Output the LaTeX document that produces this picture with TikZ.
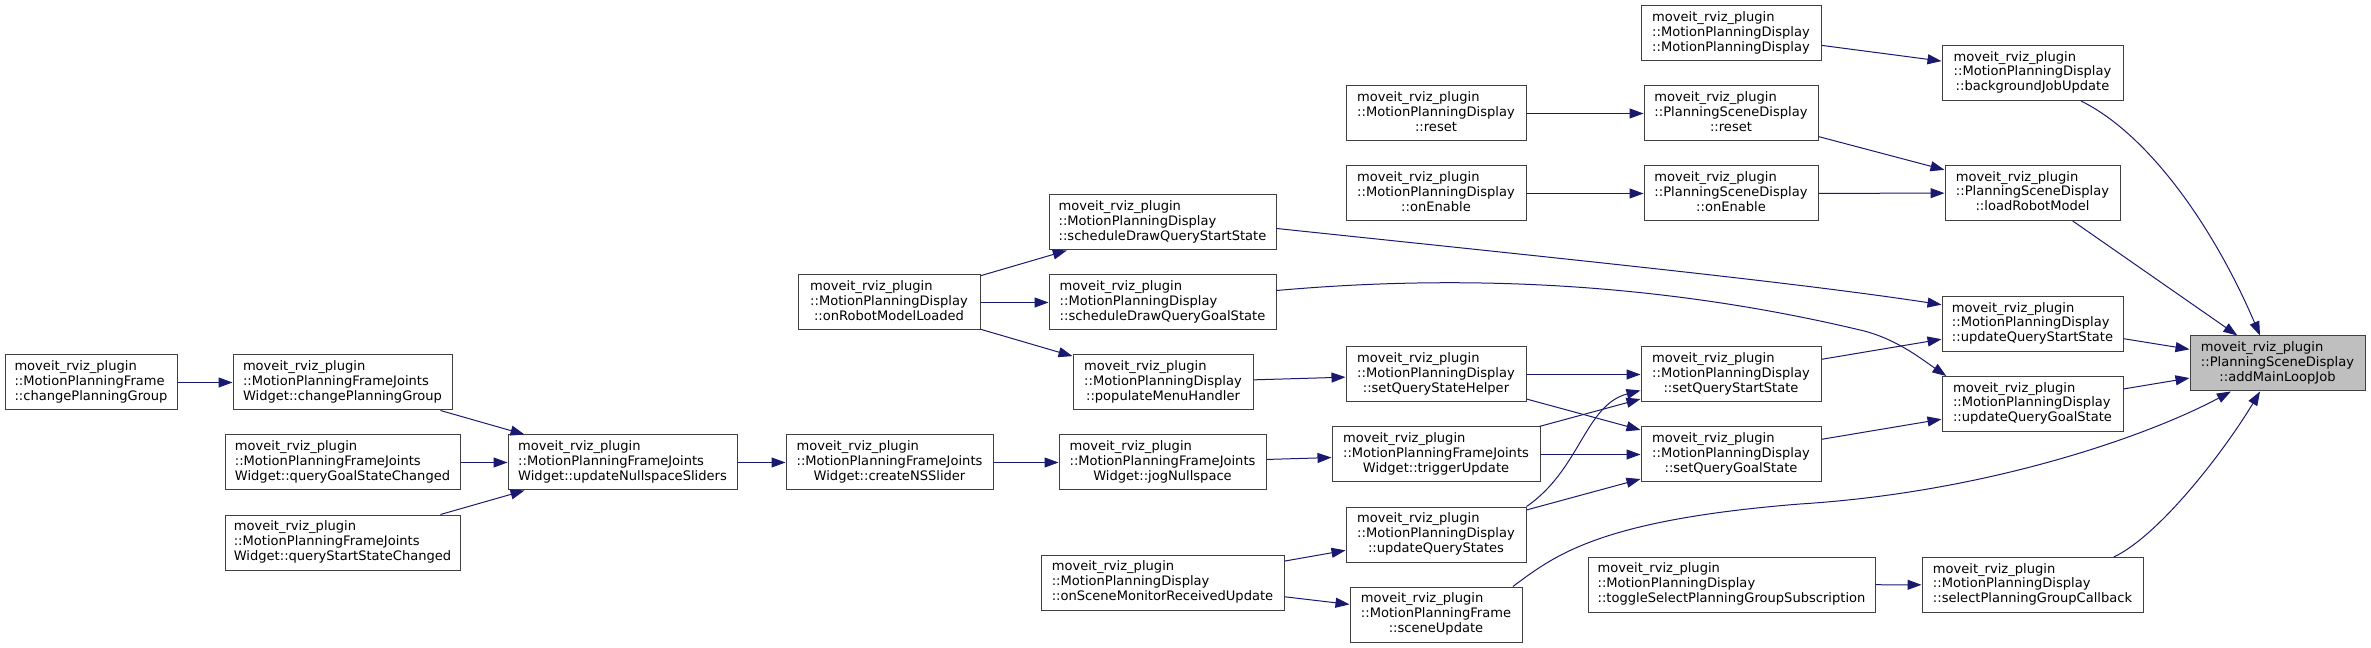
\documentclass[tikz,border=0pt]{standalone}
\usepackage{fontspec}
\setmainfont{DejaVu Sans}
\usepackage{xcolor}
\usepackage{tikz}
\usetikzlibrary{arrows.meta, positioning}

\definecolor{edgeblue}{RGB}{25,25,112}
\definecolor{mainfill}{RGB}{191,191,191}
\newcommand{\fnlabel}[2]{\begin{tabular}{@{}l@{}}moveit\_rviz\_plugin\\#1\\\multicolumn{1}{@{}c@{}}{#2}\end{tabular}}

\begin{document}
\begin{tikzpicture}[
  x=0.75pt, y=-0.75pt,
  every node/.style={font=\fontsize{9.8pt}{11pt}\selectfont},
  fnbox/.style={rectangle, draw=black!75, fill=white, line width=0.75pt,
                inner sep=0pt, minimum height=41.25pt},
  mainbox/.style={fnbox, fill=mainfill},
  bw/.style={minimum width=#1*0.75pt},
  arr/.style={-{Triangle[length=10.5pt, width=7.5pt]}, line width=0.75pt, edgeblue}
]
  \useasboundingbox (0,0) rectangle (2371,648);

  \node[fnbox, bw=172] (fcpg) at (91,382.5) {\fnlabel{::MotionPlanningFrame}{::changePlanningGroup}};
  \node[fnbox, bw=219] (wcpg) at (342.5,382.5) {\fnlabel{::MotionPlanningFrameJoints}{Widget::changePlanningGroup}};
  \node[fnbox, bw=235] (qgsc) at (342.5,462.5) {\fnlabel{::MotionPlanningFrameJoints}{Widget::queryGoalStateChanged}};
  \node[fnbox, bw=235] (qssc) at (342.5,542.5) {\fnlabel{::MotionPlanningFrameJoints}{Widget::queryStartStateChanged}};
  \node[fnbox, bw=229] (uns) at (622.5,462.5) {\fnlabel{::MotionPlanningFrameJoints}{Widget::updateNullspaceSliders}};
  \node[fnbox, bw=207] (cns) at (889.5,462.5) {\fnlabel{::MotionPlanningFrameJoints}{Widget::createNSSlider}};
  \node[fnbox, bw=182] (orml) at (889,302.5) {\fnlabel{::MotionPlanningDisplay}{::onRobotModelLoaded}};

  \node[fnbox, bw=227] (sdqs) at (1162.5,222.5) {\fnlabel{::MotionPlanningDisplay}{::scheduleDrawQueryStartState}};
  \node[fnbox, bw=227] (sdqg) at (1162.5,302.5) {\fnlabel{::MotionPlanningDisplay}{::scheduleDrawQueryGoalState}};
  \node[fnbox, bw=180] (pmh) at (1163,382.5) {\fnlabel{::MotionPlanningDisplay}{::populateMenuHandler}};
  \node[fnbox, bw=207] (jog) at (1162.5,462.5) {\fnlabel{::MotionPlanningFrameJoints}{Widget::jogNullspace}};
  \node[fnbox, bw=243] (osm) at (1162.5,582.5) {\fnlabel{::MotionPlanningDisplay}{::onSceneMonitorReceivedUpdate}};

  \node[fnbox, bw=180] (mreset) at (1436,113.5) {\fnlabel{::MotionPlanningDisplay}{::reset}};
  \node[fnbox, bw=180] (menable) at (1436,193.5) {\fnlabel{::MotionPlanningDisplay}{::onEnable}};
  \node[fnbox, bw=180] (sqsh) at (1436,374.5) {\fnlabel{::MotionPlanningDisplay}{::setQueryStateHelper}};
  \node[fnbox, bw=208] (trig) at (1436,454.5) {\fnlabel{::MotionPlanningFrameJoints}{Widget::triggerUpdate}};
  \node[fnbox, bw=180] (uqs) at (1436,534.5) {\fnlabel{::MotionPlanningDisplay}{::updateQueryStates}};
  \node[fnbox, bw=172] (scup) at (1436,614.5) {\fnlabel{::MotionPlanningFrame}{::sceneUpdate}};

  \node[fnbox, bw=180] (mctor) at (1731,33.5) {\fnlabel{::MotionPlanningDisplay}{::MotionPlanningDisplay}};
  \node[fnbox, bw=174] (preset) at (1731,113.5) {\fnlabel{::PlanningSceneDisplay}{::reset}};
  \node[fnbox, bw=174] (penable) at (1731,193.5) {\fnlabel{::PlanningSceneDisplay}{::onEnable}};
  \node[fnbox, bw=180] (sqss) at (1731,374.5) {\fnlabel{::MotionPlanningDisplay}{::setQueryStartState}};
  \node[fnbox, bw=180] (sqgs) at (1731,454.5) {\fnlabel{::MotionPlanningDisplay}{::setQueryGoalState}};
  \node[fnbox, bw=287] (tsel) at (1731.5,584.5) {\fnlabel{::MotionPlanningDisplay}{::toggleSelectPlanningGroupSubscription}};

  \node[fnbox, bw=181] (bju) at (2032.5,73) {\fnlabel{::MotionPlanningDisplay}{::backgroundJobUpdate}};
  \node[fnbox, bw=175] (lrm) at (2032.5,193) {\fnlabel{::PlanningSceneDisplay}{::loadRobotModel}};
  \node[fnbox, bw=181] (uqss) at (2032.5,324) {\fnlabel{::MotionPlanningDisplay}{::updateQueryStartState}};
  \node[fnbox, bw=181] (uqgs) at (2032.5,404) {\fnlabel{::MotionPlanningDisplay}{::updateQueryGoalState}};
  \node[fnbox, bw=221] (spg) at (2032.5,585) {\fnlabel{::MotionPlanningDisplay}{::selectPlanningGroupCallback}};

  \node[mainbox, bw=175] (aml) at (2277.5,363.5) {\fnlabel{::PlanningSceneDisplay}{::addMainLoopJob}};

  \draw[arr] (fcpg) -- (wcpg);
  \draw[arr] (wcpg) -- (uns);
  \draw[arr] (qgsc) -- (uns);
  \draw[arr] (qssc) -- (uns);
  \draw[arr] (uns) -- (cns);
  \draw[arr] (cns) -- (jog);
  \draw[arr] (orml) -- (sdqs);
  \draw[arr] (orml) -- (sdqg);
  \draw[arr] (orml) -- (pmh);
  \draw[arr] (pmh) -- (sqsh);
  \draw[arr] (jog) -- (trig);
  \draw[arr] (osm) -- (uqs);
  \draw[arr] (osm) -- (scup);
  \draw[arr] (mreset) -- (preset);
  \draw[arr] (menable) -- (penable);
  \draw[arr] (sqsh) -- (sqss);
  \draw[arr] (sqsh) -- (sqgs);
  \draw[arr] (trig) -- (sqss);
  \draw[arr] (trig) -- (sqgs);
  \draw[arr] (uqs) -- (sqgs);
  \draw[arr] (uqs.north east) .. controls (1580,470) and (1585,405) .. (sqss.190);
  \draw[arr] (scup.20) .. controls (1555,555) and (1600,520) .. (1800,504)
             .. controls (1990,492) and (2150,435) .. (aml.211);
  \draw[arr] (sdqs.-3.8) .. controls (1576,260) and (1792,282) .. (uqss.168);
  \draw[arr] (sdqg.6) .. controls (1450,275) and (1650,280) .. (1860,330)
             .. controls (1895,338) and (1920,358) .. (uqgs.162);
  \draw[arr] (mctor) -- (bju);
  \draw[arr] (preset) -- (lrm);
  \draw[arr] (penable) -- (lrm);
  \draw[arr] (sqss) -- (uqss);
  \draw[arr] (sqgs) -- (uqgs);
  \draw[arr] (tsel) -- (spg);
  \draw[arr] (bju.-30) .. controls (2150,135) and (2215,230) .. (aml.122);
  \draw[arr] (lrm) -- (aml);
  \draw[arr] (uqss) -- (aml);
  \draw[arr] (uqgs) -- (aml);
  \draw[arr] (spg.19) .. controls (2160,535) and (2225,450) .. (aml.238);
\end{tikzpicture}
\end{document}
